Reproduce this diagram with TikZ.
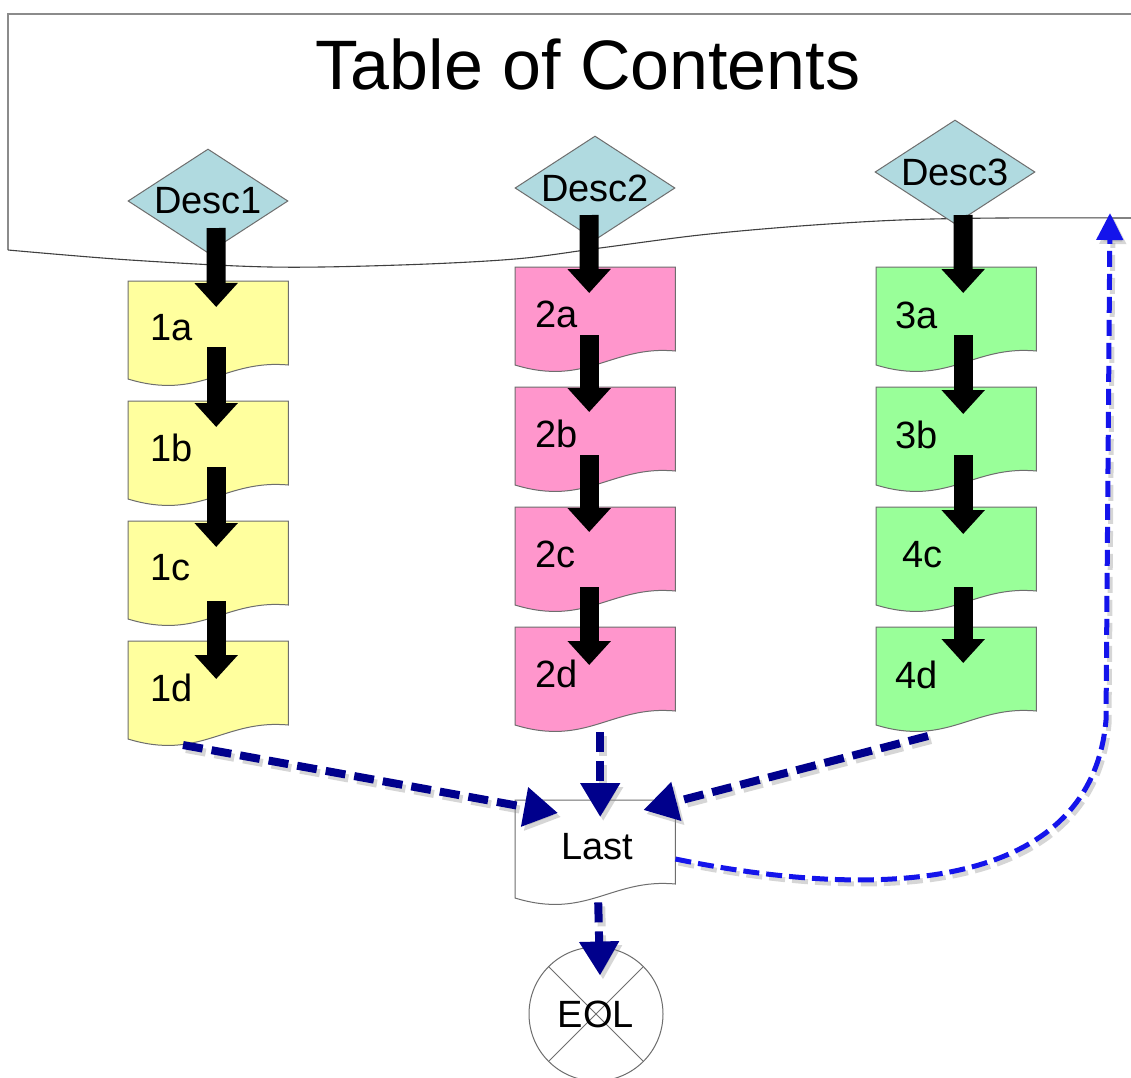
\documentclass[tikz,border=0pt]{standalone}
\usepackage{fontspec}
\setmainfont{Liberation Sans}
\usetikzlibrary{arrows.meta,shapes.geometric}

\definecolor{docyellow}{RGB}{255,255,158}
\definecolor{docpink}{RGB}{255,150,204}
\definecolor{docgreen}{RGB}{153,255,153}
\definecolor{descblue}{RGB}{176,218,224}
\definecolor{navyflow}{RGB}{0,0,140}
\definecolor{loopblue}{RGB}{20,20,235}
\definecolor{edgegray}{RGB}{110,110,110}

% document shape with a wavy bottom edge, drawn over an invisible node
\newcommand\docshape[2]{%
  \draw[docline, fill=#2] (#1.north west) -- (#1.north east)
    -- ([yshift=-84pt]#1.north east)
    .. controls ([xshift=-64pt,yshift=-78pt]#1.north east)
           and ([xshift=72pt,yshift=-120pt]#1.north west)
    .. ([yshift=-98pt]#1.north west) -- cycle;}

\begin{document}
\begin{tikzpicture}[x=1pt,y=-1pt,
  docnode/.style={rectangle, minimum width=160pt, minimum height=98pt,
    inner sep=0pt, anchor=north west},
  docline/.style={draw=edgegray, line width=1pt},
  lbl/.style={font=\fontsize{38}{38}\selectfont, anchor=west, inner sep=0pt},
  clbl/.style={font=\fontsize{38}{38}\selectfont, inner sep=0pt},
  descnode/.style={diamond, draw=edgegray, fill=descblue, line width=1pt,
    minimum width=160pt, minimum height=104pt, inner sep=0pt,
    font=\fontsize{38}{38}\selectfont},
  blk/.style={black, line width=19pt, -{Triangle[width=42pt,length=24pt]}},
  navyarr/.style={navyflow, line width=8pt, dash pattern=on 20pt off 9pt,
    -{Triangle[width=38pt,length=34pt]}},
  navyshadow/.style={black!45, opacity=.35, line width=8pt,
    dash pattern=on 20pt off 9pt, -{Triangle[width=38pt,length=34pt]},
    transform canvas={shift={(3pt,-4pt)}}},
  looparr/.style={loopblue, line width=5pt, dash pattern=on 16pt off 7pt,
    -{Triangle[width=26pt,length=27pt]}},
  loopshadow/.style={black!45, opacity=.35, line width=5pt,
    dash pattern=on 16pt off 7pt, -{Triangle[width=26pt,length=27pt]},
    transform canvas={shift={(3pt,-4pt)}}},
]
\useasboundingbox (0,0) rectangle (1131,1077);
\fill[white] (0,0) rectangle (1131,1077);

% heading panel with wavy lower edge
\draw[edgegray!80, line width=2pt] (1131,14) -- (8,14) -- (8,250);
\draw[black!75, line width=1.1pt] plot[smooth, tension=0.55] coordinates
  {(8,250) (130,260) (270,267) (400,265) (515,259) (600,248) (700,235)
   (800,226) (900,220) (1000,218) (1131,218)};
\node[font=\fontsize{70}{70}\selectfont, inner sep=0pt] (title) at (588,64)
  {Table of Contents};

% document boxes
\foreach \n/\x/\y in {1a/128/281, 1b/128/401, 1c/128/521, 1d/128/641,
                      2a/515/267, 2b/515/387, 2c/515/507, 2d/515/627,
                      3a/876/267, 3b/876/387, 4c/876/507, 4d/876/627}
  \node[docnode] (b\n) at (\x,\y) {};
\node[docnode] (last) at (515,800) {};

\foreach \n in {1a,1b,1c,1d} \docshape{b\n}{docyellow};
\foreach \n in {2a,2b,2c,2d} \docshape{b\n}{docpink};
\foreach \n in {3a,3b,4c,4d} \docshape{b\n}{docgreen};
\docshape{last}{white};

% box labels
\foreach \n in {1a,1b,1c,1d}
  \node[lbl] (t\n) at ([xshift=22pt,yshift=-47pt]b\n.north west) {\n};
\foreach \n in {2a,2b,2c,2d}
  \node[lbl] (t\n) at ([xshift=20pt,yshift=-47pt]b\n.north west) {\n};
\foreach \n/\dx in {3a/19,3b/19,4c/26,4d/19}
  \node[lbl] (t\n) at ([xshift=\dx pt,yshift=-48pt]b\n.north west) {\n};
\node[clbl] (tlast) at ([xshift=2pt,yshift=-47pt]last.north) {Last};

% section markers
\node[descnode] (d1) at (208,201) {\makebox[0pt]{Desc1}};
\node[descnode] (d2) at (595,188) {\makebox[0pt]{Desc2}};
\node[descnode] (d3) at (955,172) {\makebox[0pt]{Desc3}};

% end-of-list connector
\node[circle, draw=edgegray, line width=1pt, minimum size=134pt,
  inner sep=0pt] (eol) at (596,1014) {};
\draw[edgegray, line width=1pt] (eol.north west) -- (eol.south east)
  (eol.north east) -- (eol.south west);
\node[clbl] (teol) at (eol.center) {EOL};

% solid flow down each column
\draw[blk] ([xshift=8pt,yshift=-27pt]d1.center) -- ([xshift=8pt,yshift=-26pt]b1a.north);
\draw[blk] ([xshift=8pt,yshift=-66pt]b1a.north) -- ([xshift=8pt,yshift=-26pt]b1b.north);
\draw[blk] ([xshift=8pt,yshift=-66pt]b1b.north) -- ([xshift=8pt,yshift=-26pt]b1c.north);
\draw[blk] ([xshift=8pt,yshift=-80pt]b1c.north) -- ([xshift=8pt,yshift=-38pt]b1d.north);

\draw[blk] ([xshift=-6pt,yshift=-27pt]d2.center) -- ([xshift=-6pt,yshift=-26pt]b2a.north);
\draw[blk] ([xshift=-6pt,yshift=-68pt]b2a.north) -- ([xshift=-6pt,yshift=-25pt]b2b.north);
\draw[blk] ([xshift=-6pt,yshift=-68pt]b2b.north) -- ([xshift=-6pt,yshift=-25pt]b2c.north);
\draw[blk] ([xshift=-6pt,yshift=-80pt]b2c.north) -- ([xshift=-6pt,yshift=-38pt]b2d.north);

\draw[blk] ([xshift=8pt,yshift=-43pt]d3.center) -- ([xshift=7pt,yshift=-26pt]b3a.north);
\draw[blk] ([xshift=7pt,yshift=-68pt]b3a.north) -- ([xshift=7pt,yshift=-27pt]b3b.north);
\draw[blk] ([xshift=7pt,yshift=-68pt]b3b.north) -- ([xshift=7pt,yshift=-27pt]b4c.north);
\draw[blk] ([xshift=7pt,yshift=-80pt]b4c.north) -- ([xshift=7pt,yshift=-36pt]b4d.north);

% dashed flow into and out of the last page
\coordinate (c1) at ([xshift=55pt,yshift=-104pt]b1d.north west);
\coordinate (c2) at ([xshift=5pt,yshift=-105pt]b2d.north);
\coordinate (c3) at ([xshift=52pt,yshift=-109pt]b4d.north west);
\coordinate (c4) at ([xshift=3pt,yshift=-4pt]last.south);
\coordinate (looptip) at (1110,213);

\draw[navyshadow] (c1) -- ([xshift=43pt,yshift=-13pt]last.north west);
\draw[navyshadow] (c2) -- ([xshift=5pt,yshift=-17pt]last.north);
\draw[navyshadow] (c3) -- ([xshift=-32pt,yshift=-10pt]last.north east);
\draw[navyshadow] (c4) -- ([xshift=4pt,yshift=-29pt]eol.north);
\draw[loopshadow] ([yshift=-59pt]last.north east)
  .. controls (900,905) and (1092,882) .. (1106,720) -- (looptip);

\draw[navyarr] (c1) -- ([xshift=43pt,yshift=-13pt]last.north west);
\draw[navyarr] (c2) -- ([xshift=5pt,yshift=-17pt]last.north);
\draw[navyarr] (c3) -- ([xshift=-32pt,yshift=-10pt]last.north east);
\draw[navyarr] (c4) -- ([xshift=4pt,yshift=-29pt]eol.north);
\draw[looparr] ([yshift=-59pt]last.north east)
  .. controls (900,905) and (1092,882) .. (1106,720) -- (looptip);
\end{tikzpicture}
\end{document}
